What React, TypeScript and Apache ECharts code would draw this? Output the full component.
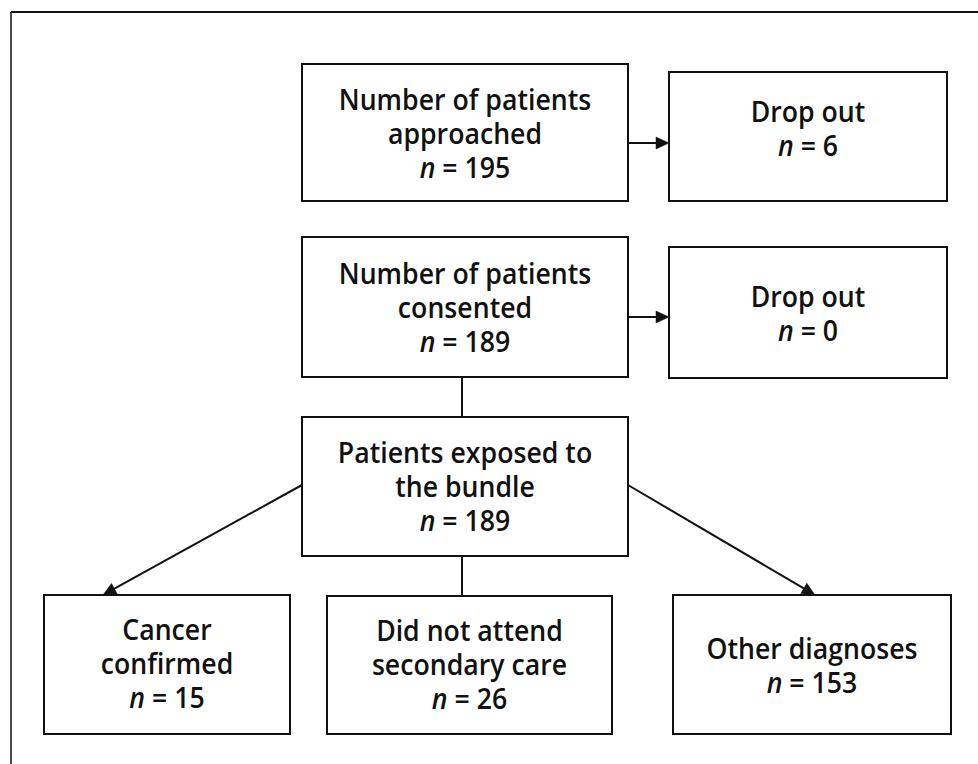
import React, { useEffect, useRef } from "react";
import * as echarts from "echarts";

// Flow stages (text) and their patient counts
const stageLabels: string[] = [
  "Number of patients\napproached",
  "Drop out",
  "Number of patients\nconsented",
  "Drop out",
  "Patients exposed to\nthe bundle",
  "Cancer\nconfirmed",
  "Did not attend\nsecondary care",
  "Other diagnoses",
];
const stageCounts: number[] = [195, 6, 189, 0, 189, 15, 26, 153];

// Connections between stages: [from, to, hasArrow]
const stageLinks: [number, number, boolean][] = [
  [0, 1, true],
  [2, 3, true],
  [2, 4, false],
  [4, 5, true],
  [4, 6, false],
  [4, 7, true],
];

// Layout (page pixel space): box corners [x0, y0, x1, y1]
const boxLayout: number[][] = [
  [302, 64, 628, 201],
  [669, 72, 947, 201],
  [302, 237, 628, 377],
  [669, 247, 947, 378],
  [302, 417, 628, 556],
  [44, 595, 290, 734],
  [327, 596, 612, 734],
  [673, 595, 951, 734],
];
// Vertical text offsets inside boxes
const textShift: number[] = [0, -9, 0, 0, -1, -2, -1, 0];
// Link endpoints [x0, y0, x1, y1]
const linkLayout: number[][] = [
  [628, 143, 669, 143],
  [628, 317, 669, 317],
  [462, 377, 462, 417],
  [302, 485, 103, 595],
  [462, 556, 462, 596],
  [628, 485, 815, 595],
];

const W = 978;
const H = 764;
const INK = "#111111";
const FONT = "'Open Sans', 'Noto Sans', sans-serif";
const FS = 29;
const LH = 34;
const FW = 600;
const SCALE_X = 0.92;

export default function App() {
  const ref = useRef<HTMLDivElement>(null);

  useEffect(() => {
    if (!ref.current) return;
    const chart = echarts.init(ref.current, undefined, { renderer: "svg" });

    const boxData = stageLabels.map((_, i) => {
      const b = boxLayout[i];
      return [(b[0] + b[2]) / 2, (b[1] + b[3]) / 2];
    });
    const linkData = stageLinks.map((_, i) => {
      const l = linkLayout[i];
      return [l[0], l[1]];
    });

    chart.setOption({
      animation: false,
      backgroundColor: "#ffffff",
      grid: { left: 0, right: 0, top: 0, bottom: 0 },
      xAxis: { type: "value", min: 0, max: W, show: false },
      yAxis: { type: "value", min: 0, max: H, inverse: true, show: false },
      graphic: [
        {
          type: "line",
          shape: { x1: 11, y1: 12, x2: W, y2: 12 },
          style: { stroke: INK, lineWidth: 2 },
        },
        {
          type: "line",
          shape: { x1: 11, y1: 12, x2: 11, y2: H },
          style: { stroke: INK, lineWidth: 1.5 },
        },
      ],
      series: [
        {
          type: "custom",
          coordinateSystem: "cartesian2d",
          clip: false,
          silent: true,
          data: linkData,
          renderItem: (params: any, api: any) => {
            const i = params.dataIndex;
            const l = linkLayout[i];
            const p0 = api.coord([l[0], l[1]]);
            const p1 = api.coord([l[2], l[3]]);
            const children: any[] = [];
            const hasArrow = stageLinks[i][2];
            const dx = p1[0] - p0[0];
            const dy = p1[1] - p0[1];
            const len = Math.sqrt(dx * dx + dy * dy);
            const ux = dx / len;
            const uy = dy / len;
            const headLen = 13;
            const headHalf = 6;
            const end = hasArrow
              ? [p1[0] - ux * (headLen - 2), p1[1] - uy * (headLen - 2)]
              : p1;
            children.push({
              type: "line",
              shape: { x1: p0[0], y1: p0[1], x2: end[0], y2: end[1] },
              style: { stroke: INK, lineWidth: 2 },
            });
            if (hasArrow) {
              const bx = p1[0] - ux * headLen;
              const by = p1[1] - uy * headLen;
              children.push({
                type: "polygon",
                shape: {
                  points: [
                    [p1[0], p1[1]],
                    [bx - uy * headHalf, by + ux * headHalf],
                    [bx + uy * headHalf, by - ux * headHalf],
                  ],
                },
                style: { fill: INK, stroke: INK, lineWidth: 0.5 },
              });
            }
            return { type: "group", children };
          },
          z: 1,
        },
        {
          type: "custom",
          coordinateSystem: "cartesian2d",
          clip: false,
          silent: true,
          data: boxData,
          renderItem: (params: any, api: any) => {
            const i = params.dataIndex;
            const b = boxLayout[i];
            const p0 = api.coord([b[0], b[1]]);
            const p1 = api.coord([b[2], b[3]]);
            const text = stageLabels[i] + "\n{i|n} = " + stageCounts[i];
            return {
              type: "group",
              children: [
                {
                  type: "rect",
                  shape: {
                    x: p0[0],
                    y: p0[1],
                    width: p1[0] - p0[0],
                    height: p1[1] - p0[1],
                  },
                  style: { fill: "#ffffff", stroke: INK, lineWidth: 2 },
                },
                {
                  type: "text",
                  x: (p0[0] + p1[0]) / 2,
                  y: (p0[1] + p1[1]) / 2 + textShift[i],
                  scaleX: SCALE_X,
                  style: {
                    text,
                    x: 0,
                    y: 0,
                    align: "center",
                    verticalAlign: "middle",
                    fontFamily: FONT,
                    fontSize: FS,
                    fontWeight: FW,
                    lineHeight: LH,
                    fill: INK,
                    rich: {
                      i: {
                        fontFamily: FONT,
                        fontSize: FS,
                        fontWeight: FW,
                        lineHeight: LH,
                        fontStyle: "italic",
                        fill: INK,
                      },
                    },
                  },
                },
              ],
            };
          },
          z: 2,
        },
      ],
    });

    return () => chart.dispose();
  }, []);

  return (
    <div
      ref={ref}
      style={{ position: "fixed", left: 0, top: 0, width: W, height: H }}
    />
  );
}
